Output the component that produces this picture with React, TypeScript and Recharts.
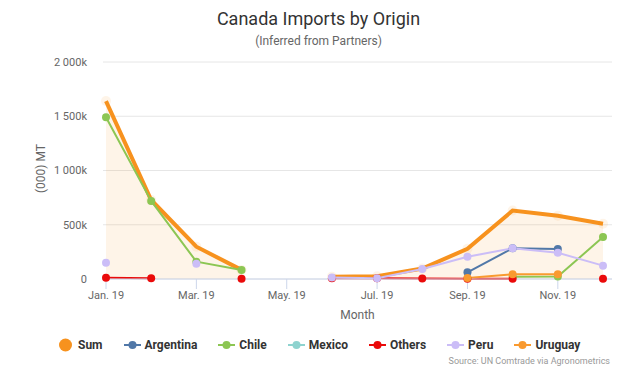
import { ComposedChart, Area, Line, XAxis, YAxis, CartesianGrid } from 'recharts';

// monthly imports, (000) MT, thousands
const months = ['Jan. 19', 'Feb. 19', 'Mar. 19', 'Apr. 19', 'May. 19', 'Jun. 19', 'Jul. 19', 'Aug. 19', 'Sep. 19', 'Oct. 19', 'Nov. 19', 'Dec. 19'];
const sum = [1640, 728, 298, 84, null, 20, 25, 97, 278, 631, 583, 510];
const argentina = [null, null, null, null, null, null, null, null, 62, 283, 276, null];
const chile = [1490, 720, 160, 82, null, null, null, null, null, 20, 22, 387];
const mexico = [null, null, null, null, null, null, null, null, null, null, null, null];
const others = [12, 6, null, 3, null, 8, 6, 5, 3, 2, null, 3];
const peru = [150, null, 141, null, null, 13, 6, 92, 205, 283, 242, 123];
const uruguay = [null, null, null, null, null, null, null, null, 10, 43, 43, null];

const yTicks = [0, 500, 1000, 1500, 2000];

const SERIES = [
  { key: 'argentina', name: 'Argentina', color: '#5178a8', values: argentina },
  { key: 'chile', name: 'Chile', color: '#8cc653', values: chile },
  { key: 'mexico', name: 'Mexico', color: '#8ed3cf', values: mexico },
  { key: 'others', name: 'Others', color: '#ea0a0a', values: others },
  { key: 'peru', name: 'Peru', color: '#cbbdf7', values: peru },
  { key: 'uruguay', name: 'Uruguay', color: '#f99a2f', values: uruguay },
];
const SUM_COLOR = '#f7921e';

const data = months.map((m, i) => {
  const row: Record<string, string | number | null> = { month: m, sum: sum[i] };
  SERIES.forEach(s => { row[s.key] = s.values[i]; });
  return row;
});

const FONT = 'Roboto, "Open Sans", sans-serif';

function fmtTick(v: number) {
  if (v === 0) return '0';
  if (v >= 1000) return `${Math.floor(v / 1000)} ${String(v % 1000).padStart(3, '0')}k`;
  return `${v}k`;
}

function LegendRow() {
  return (
    <div style={{ position: 'absolute', top: 337, left: 59, display: 'flex', alignItems: 'center', fontFamily: FONT, fontWeight: 700, fontSize: 12, color: '#333' }}>
      <div style={{ display: 'flex', alignItems: 'center', marginRight: 21 }}>
        <svg width={13} height={16}><circle cx={6.5} cy={8} r={6.5} fill={SUM_COLOR} /></svg>
        <span style={{ marginLeft: 6 }}>Sum</span>
      </div>
      {SERIES.map(s => (
        <div key={s.key} style={{ display: 'flex', alignItems: 'center', marginRight: 21 }}>
          <svg width={17} height={16}>
            <line x1={0} y1={8} x2={17} y2={8} stroke={s.color} strokeWidth={2} />
            <circle cx={8.5} cy={8} r={4} fill={s.color} />
          </svg>
          <span style={{ marginLeft: 4 }}>{s.name}</span>
        </div>
      ))}
    </div>
  );
}

export default function App() {
  return (
    <div style={{ position: 'relative', width: 623, height: 369, background: '#fff', fontFamily: FONT }}>
      <style>{'body{margin:0}'}</style>
      <div style={{ position: 'absolute', top: 8, left: 7, width: 623, textAlign: 'center', fontSize: 18, color: '#333' }}>
        Canada Imports by Origin
      </div>
      <div style={{ position: 'absolute', top: 34, left: 7, width: 623, textAlign: 'center', fontSize: 12, color: '#666' }}>
        (Inferred from Partners)
      </div>
      <div style={{ position: 'absolute', left: 17, top: 162, width: 48, textAlign: 'center', fontSize: 12, color: '#666', transform: 'rotate(-90deg)', whiteSpace: 'nowrap' }}>
        (000) MT
      </div>
      <ComposedChart width={623} height={369} data={data} margin={{ top: 62, right: 11, bottom: 50, left: 43 }}>
        <CartesianGrid vertical={false} stroke="#e6e6e6" />
        <XAxis
          dataKey="month"
          scale="point"
          interval={1}
          padding={{ left: 3, right: 9 }}
          height={40}
          tickSize={10}
          tickMargin={2}
          axisLine={{ stroke: '#ccd6eb' }}
          tickLine={{ stroke: '#ccd6eb' }}
          tick={{ fill: '#666', fontSize: 11, fontFamily: FONT }}
          label={{ value: 'Month', position: 'insideBottom', offset: 0, fill: '#666', fontSize: 12, fontFamily: FONT }}
        />
        <YAxis
          width={60}
          domain={[0, 2000]}
          ticks={yTicks}
          axisLine={false}
          tickLine={false}
          tickSize={0}
          tickMargin={16}
          tickFormatter={fmtTick}
          tick={{ fill: '#666', fontSize: 11, fontFamily: FONT }}
        />
        <Area
          dataKey="sum"
          name="Sum"
          type="linear"
          stroke={SUM_COLOR}
          strokeWidth={4}
          fill={SUM_COLOR}
          fillOpacity={0.1}
          dot={{ r: 5, fill: SUM_COLOR, stroke: SUM_COLOR, strokeWidth: 0 }}
          activeDot={false}
          isAnimationActive={false}
        />
        {SERIES.map(s => (
          <Line
            key={s.key}
            dataKey={s.key}
            name={s.name}
            type="linear"
            stroke={s.color}
            strokeWidth={2}
            dot={{ r: 4, fill: s.color, stroke: s.color, strokeWidth: 0 }}
            activeDot={false}
            isAnimationActive={false}
          />
        ))}
      </ComposedChart>
      <LegendRow />
      <div style={{ position: 'absolute', right: 13, top: 356, fontSize: 9, color: '#999' }}>
        Source: UN Comtrade via Agronometrics
      </div>
    </div>
  );
}
